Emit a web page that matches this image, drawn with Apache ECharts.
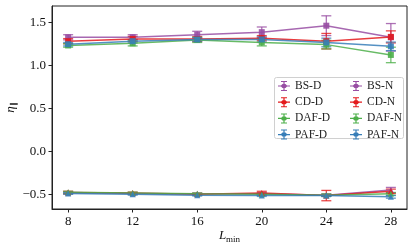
<!DOCTYPE html>
<html><head><meta charset="utf-8">
<script src="https://cdn.jsdelivr.net/npm/echarts@6/dist/echarts.min.js"></script>
<style>html,body{margin:0;padding:0;background:#fff}#c{width:415px;height:247px}</style>
</head><body><div id="c"></div>
<script>
const L_min = [8, 12, 16, 20, 24, 28];
const xTicks = [8, 12, 16, 20, 24, 28];
const yTicks = [-0.5, 0, 0.5, 1.0, 1.5];

const BS_D = [1.33, 1.33, 1.36, 1.39, 1.465, 1.33];
const BS_D_err = [0.03, 0.03, 0.04, 0.06, 0.115, 0.16];
const CD_D = [1.285, 1.31, 1.31, 1.32, 1.285, 1.335];
const CD_D_err = [0.03, 0.03, 0.03, 0.03, 0.09, 0.07];
const DAF_D = [1.235, 1.26, 1.30, 1.27, 1.245, 1.125];
const DAF_D_err = [0.02, 0.03, 0.03, 0.04, 0.05, 0.09];
const PAF_D = [1.25, 1.285, 1.305, 1.305, 1.27, 1.225];
const PAF_D_err = [0.02, 0.02, 0.02, 0.03, 0.05, 0.05];

const BS_N = [-0.475, -0.485, -0.49, -0.49, -0.505, -0.445];
const BS_N_err = [0.01, 0.01, 0.01, 0.015, 0.015, 0.03];
const CD_N = [-0.475, -0.48, -0.495, -0.48, -0.51, -0.46];
const CD_N_err = [0.015, 0.01, 0.01, 0.02, 0.06, 0.025];
const DAF_N = [-0.47, -0.48, -0.49, -0.495, -0.505, -0.49];
const DAF_N_err = [0.01, 0.01, 0.01, 0.01, 0.015, 0.015];
const PAF_N = [-0.485, -0.495, -0.505, -0.51, -0.51, -0.525];
const PAF_N_err = [0.01, 0.01, 0.01, 0.01, 0.01, 0.015];

const seriesNames = ['BS-D','CD-D','DAF-D','PAF-D','BS-N','CD-N','DAF-N','PAF-N'];
const seriesVals = [BS_D, CD_D, DAF_D, PAF_D, BS_N, CD_N, DAF_N, PAF_N];
const seriesErrs = [BS_D_err, CD_D_err, DAF_D_err, PAF_D_err, BS_N_err, CD_N_err, DAF_N_err, PAF_N_err];
const colors = ['#984ea3','#e41a1c','#4daf4a','#377eb8','#984ea3','#e41a1c','#4daf4a','#377eb8'];
const symbols = ['rect','rect','rect','rect','triangle','triangle','triangle','triangle'];

const FONT = 'Liberation Serif';
const icon = 'path://M0 4.4H12V5.6H0Z M5.4 0H6.6V10H5.4Z M3 0H9V1H3Z M3 9H9V10H3Z M4.5 3H7.5L9 4.5V5.5L7.5 7H4.5L3 5.5V4.5Z';

const series = [];
seriesNames.forEach((name, i) => {
  const c = colors[i];
  series.push({
    name, type: 'custom', z: 2,
    data: L_min.map((x, j) => [x, seriesVals[i][j], seriesErrs[i][j]]),
    encode: {x: 0, y: 1},
    renderItem: (params, api) => {
      const x = api.value(0), y = api.value(1), e = api.value(2);
      const t = api.coord([x, y + e]), b = api.coord([x, y - e]);
      const hw = 5;
      const st = {stroke: c, lineWidth: 1.3, opacity: 0.8};
      return {type: 'group', children: [
        {type: 'line', shape: {x1: t[0], y1: t[1], x2: b[0], y2: b[1]}, style: st},
        {type: 'line', shape: {x1: t[0]-hw, y1: t[1], x2: t[0]+hw, y2: t[1]}, style: st},
        {type: 'line', shape: {x1: b[0]-hw, y1: b[1], x2: b[0]+hw, y2: b[1]}, style: st}
      ]};
    },
    silent: true
  });
  series.push({
    name, type: 'line', z: 3,
    data: L_min.map((x, j) => [x, seriesVals[i][j]]),
    symbol: symbols[i], symbolSize: 6, showSymbol: true,
    lineStyle: {color: c, width: 1.5, opacity: 0.85},
    itemStyle: {color: c, opacity: 0.9},
    animation: false
  });
});

const legendCommon = {
  orient: 'vertical', itemWidth: 12, itemHeight: 10, itemGap: 4.2, z: 6,
  textStyle: {fontFamily: FONT, fontSize: 11.5, color: '#222'},
  selectedMode: false, padding: 0, inactiveColor: '#ccc'
};

const chart = echarts.init(document.getElementById('c'));
chart.setOption({
  animation: false,
  color: colors,
  grid: {left: 52, right: 8, top: 6, bottom: 38, outerBoundsMode: 'none', containLabel: false,
    show: true, borderColor: '#222', borderWidth: 1, backgroundColor: 'transparent'},
  xAxis: {
    type: 'value', min: 7, max: 29,
    name: '{i|L}{s|min}', nameLocation: 'middle', nameGap: 18, nameMoveOverlap: false,
    nameTextStyle: {rich: {i: {fontFamily: FONT, fontStyle: 'italic', fontSize: 13, color: '#111'}, s: {fontFamily: FONT, fontSize: 9, color: '#111', padding: [8, 0, 0, 0]}}},
    axisLine: {show: true, onZero: false, lineStyle: {color: '#222', width: 1}},
    axisTick: {show: true, customValues: xTicks, length: 3.5, lineStyle: {color: '#222'}},
    axisLabel: {customValues: xTicks, fontFamily: FONT, fontSize: 13, color: '#111', margin: 6},
    splitLine: {show: false}
  },
  yAxis: {
    type: 'value', min: -0.666, max: 1.694,
    name: '{i|η}{s|∥}', nameLocation: 'middle', nameGap: 34, nameRotate: 90, nameMoveOverlap: false,
    nameTextStyle: {rich: {i: {fontFamily: FONT, fontStyle: 'italic', fontSize: 13, color: '#111'}, s: {fontFamily: FONT, fontSize: 8, color: '#111', padding: [6, 0, 0, 0]}}},
    axisLine: {show: true, onZero: false, lineStyle: {color: '#222', width: 1}},
    axisTick: {show: true, customValues: yTicks, length: 3.5, lineStyle: {color: '#222'}},
    axisLabel: {customValues: yTicks, fontFamily: FONT, fontSize: 13, color: '#111', margin: 6,
      formatter: v => (v < 0 ? '\u2212' : '') + Math.abs(v).toFixed(1)},
    splitLine: {show: false}
  },
  legend: [
    Object.assign({left: 278, top: 80, data: seriesNames.slice(0, 4).map(n => ({name: n, icon}))}, legendCommon),
    Object.assign({left: 350, top: 80, data: seriesNames.slice(4).map(n => ({name: n, icon}))}, legendCommon)
  ],
  graphic: [{
    type: 'rect', left: 274, top: 77, z: 5, silent: true,
    shape: {width: 129, height: 61, r: 2},
    style: {fill: 'rgba(255,255,255,0.85)', stroke: '#d0d0d0', lineWidth: 1}
  }],
  series
});
</script></body></html>
